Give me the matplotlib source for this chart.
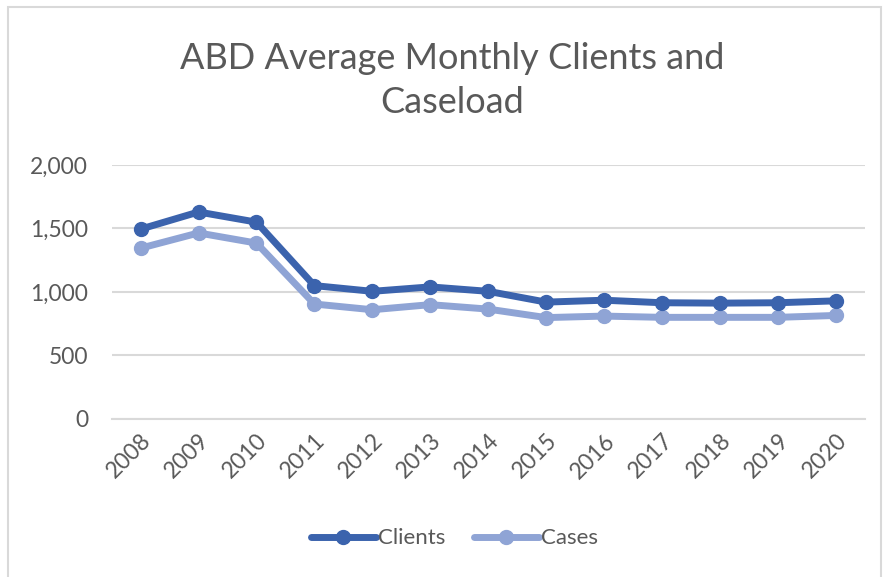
import matplotlib
matplotlib.use('Agg')
import matplotlib.pyplot as plt
from matplotlib.patches import Rectangle

years = ['2008', '2009', '2010', '2011', '2012', '2013', '2014',
         '2015', '2016', '2017', '2018', '2019', '2020']
clients = [1495, 1630, 1550, 1050, 1005, 1040, 1005, 920, 935, 915, 912, 915, 930]
cases = [1345, 1465, 1385, 905, 860, 900, 865, 798, 810, 800, 800, 800, 815]
y_ticks = [0, 500, 1000, 1500, 2000]

plt.rcParams['font.family'] = ['Lato', 'DejaVu Sans']
text_color = '#595959'

fig = plt.figure(figsize=(8.86, 5.77), dpi=100)
fig.patches.append(Rectangle((0.009, -0.01), 0.985, 0.998, transform=fig.transFigure,
                             fill=False, edgecolor='#d9d9d9', linewidth=1.5))

ax = fig.add_axes([0.126, 0.274, 0.850, 0.440])
x = range(len(years))
ax.plot(x, clients, color='#3b63ad', linewidth=5, marker='o', markersize=10,
        label='Clients', solid_capstyle='round', zorder=3)
ax.plot(x, cases, color='#8fa4d5', linewidth=5, marker='o', markersize=10,
        label='Cases', solid_capstyle='round', zorder=2)

ax.set_xlim(-0.5, len(years) - 0.5)
ax.set_ylim(0, 2000)
ax.set_yticks(y_ticks)
ax.set_yticklabels([f'{v:,}' for v in y_ticks])
ax.set_xticks(list(x))
ax.set_xticklabels(years, rotation=45, ha='right', rotation_mode='anchor')
ax.tick_params(axis='both', length=0, labelsize=16.5, labelcolor=text_color)
ax.tick_params(axis='y', pad=17)
ax.tick_params(axis='x', pad=8)
ax.grid(axis='y', color='#d9d9d9', linewidth=1.5)
ax.set_axisbelow(True)
for s in ax.spines.values():
    s.set_visible(False)
ax.spines['bottom'].set_visible(True)
ax.spines['bottom'].set_color('#d9d9d9')
ax.spines['bottom'].set_linewidth(1.5)

fig.text(0.51, 0.860, 'ABD Average Monthly Clients and\nCaseload', ha='center', va='center',
         fontsize=26, color=text_color, linespacing=1.42)

fig.legend(loc='center', bbox_to_anchor=(0.513, 0.067), ncol=2, frameon=False,
           fontsize=16, labelcolor=text_color, handlelength=2.9, handletextpad=0.1,
           columnspacing=1.3)

fig.savefig('out.png', dpi=100)
